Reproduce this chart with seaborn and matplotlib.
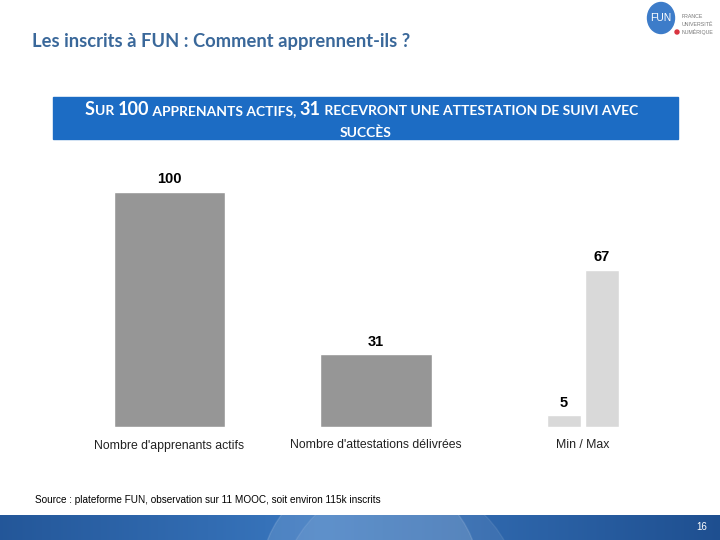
import numpy as np
import pandas as pd
import matplotlib
matplotlib.use('Agg')
import matplotlib.pyplot as plt
import matplotlib.patches as mpatches
import seaborn as sns

# data
categories = ["Nombre d'apprenants actifs", "Nombre d'attestations délivrées", "Min / Max"]
main_values = [100, 31]
minmax_labels = ['Min', 'Max']
minmax_values = [5, 67]

title = "Les inscrits à FUN : Comment apprennent-ils ?"
source = "Source : plateforme FUN, observation sur 11 MOOC, soit environ 115k inscrits"
page_no = "16"

dark_grey = '#969696'
light_grey = '#d9d9d9'
blue = '#1c6cc4'

sns.set_style('white')
plt.rcParams['font.family'] = ['Liberation Sans', 'DejaVu Sans']

fig = plt.figure(figsize=(7.2, 5.4), dpi=100)

# chart axes placed in pixel coords of the slide
W, H = 720, 540
def px(x0, y0, x1, y1):
    return [x0 / W, 1 - y1 / H, (x1 - x0) / W, (y1 - y0) / H]

ax = fig.add_axes(px(60, 150, 680, 427))

df_main = pd.DataFrame({'cat': categories[:2], 'value': main_values})
df_mm = pd.DataFrame({'cat': [categories[2]] * 2, 'serie': minmax_labels, 'value': minmax_values})

sns.barplot(data=df_main, x='cat', y='value', order=categories, color=dark_grey,
            width=0.54, saturation=1, ax=ax)
sns.barplot(data=df_mm, x='cat', y='value', hue='serie', order=categories,
            palette=[light_grey, light_grey], width=0.37, gap=0.1, dodge=True,
            saturation=1, legend=False, ax=ax)

for c in ax.containers:
    ax.bar_label(c, fmt='%d', padding=4, fontsize=10.5, fontweight='bold', color='black')

ax.set_xlim(-0.53, 2.47)
ax.set_ylim(0, 117.9)
ax.set_xlabel('')
ax.set_ylabel('')
ax.set_yticks([])
ax.tick_params(axis='x', length=0, pad=9, labelsize=8.8, colors='#222222')
sns.despine(ax=ax, left=True, bottom=True)

# title
fig.text(32 / W, 1 - 42 / H, title, fontsize=13.2, fontweight='bold', color='#3a689a',
         va='center', family=['Lato', 'DejaVu Sans'])

# blue banner with small caps text
fig.patches.append(mpatches.Rectangle((53 / W, 1 - 139 / H), 625 / W, 42 / H,
                                      transform=fig.transFigure, color=blue, zorder=-1))
big, small = 13, 10
pieces = [('S', big), ('UR ', small), ('100', big), (' APPRENANTS ACTIFS, ', small), ('31', big),
          (' RECEVRONT UNE ATTESTATION DE SUIVI AVEC', small)]
base_y = 1 - 115 / H
prev = None
for txt, size in pieces:
    if prev is None:
        prev = fig.text(85 / W, base_y, txt, fontsize=size, color='white', fontweight='bold',
                        va='baseline', family=['Lato', 'DejaVu Sans'])
    else:
        prev = ax.annotate(txt, xy=(1, base_y), xycoords=(prev, fig.transFigure),
                           va='baseline', ha='left', fontsize=size, color='white',
                           fontweight='bold', family=['Lato', 'DejaVu Sans'],
                           annotation_clip=False)
fig.text(366 / W, 1 - 137 / H, 'SUCCÈS', fontsize=small, color='white', ha='center',
         va='baseline', fontweight='bold', family=['Lato', 'DejaVu Sans'])

# source
fig.text(35 / W, 1 - 500 / H, source, fontsize=7.2, color='black', va='center')

# bottom band
band = fig.add_axes(px(0, 515, 720, 540))
grad = np.linspace(0, 1, 256)
prof = 1 - np.abs(grad - 0.45) * 1.6
band.imshow(prof[None, :], aspect='auto', cmap=matplotlib.colors.LinearSegmentedColormap.from_list(
    'b', ['#1b4a8a', '#3a78c0']), extent=(0, 720, 0, 25), vmin=0, vmax=1)
band.add_patch(mpatches.Circle((370, -40), 110, color='white', alpha=0.12))
band.add_patch(mpatches.Circle((400, -60), 120, color='white', alpha=0.08))
band.set_xlim(0, 720)
band.set_ylim(0, 25)
band.axis('off')
band.text(702, 12.5, page_no, color='white', fontsize=7, ha='center', va='center')

# logo
logo = fig.add_axes(px(640, 0, 720, 40))
logo.set_xlim(640, 720)
logo.set_ylim(40, 0)
logo.set_aspect('equal')
logo.axis('off')
logo.add_patch(mpatches.Ellipse((661, 18), 27, 31, color='#3d7cc9'))
logo.add_patch(mpatches.Circle((677, 32), 2, color='#d9333f'))
logo.text(661, 18, 'FUN', color='white', fontsize=7.5, ha='center', va='center')
for i, w in enumerate(['FRANCE', 'UNIVERSITÉ', 'NUMÉRIQUE']):
    logo.text(682, 16 + i * 8, w, color='#777777', fontsize=3.8, va='center')

fig.savefig('out.png', dpi=100)
